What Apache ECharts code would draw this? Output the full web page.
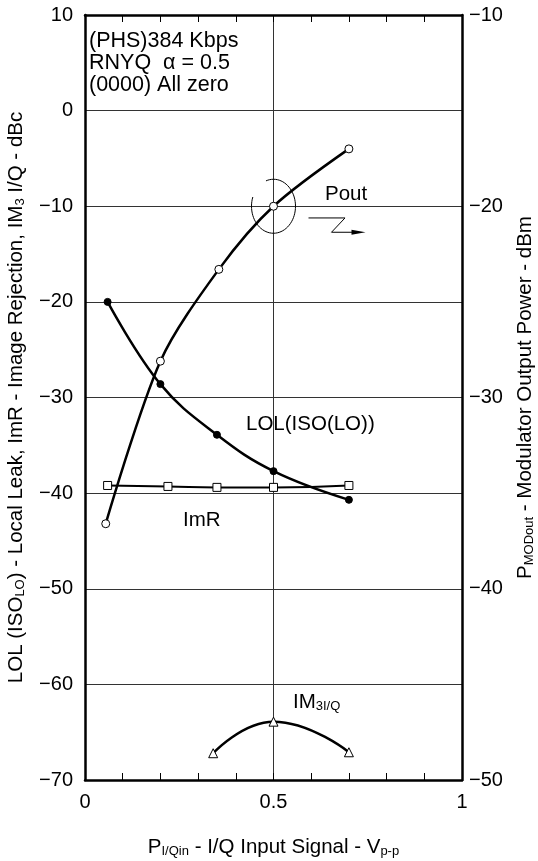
<!DOCTYPE html>
<html>
<head>
<meta charset="utf-8">
<script src="https://cdn.jsdelivr.net/npm/echarts@6/dist/echarts.min.js"></script>
<style>
html,body{margin:0;padding:0;background:#fff;overflow:hidden;}
#chart{width:538px;height:861px;}
</style>
</head>
<body>
<div id="chart"></div>
<script>
// ---- data ----
const xLOL = [0.06, 0.2, 0.35, 0.5, 0.7];
const yLOL = [-20, -28.6, -33.9, -37.7, -40.7];
const xImR = [0.06, 0.22, 0.35, 0.5, 0.7];
const yImR = [-39.2, -39.3, -39.4, -39.4, -39.2];
const xPout = [0.055, 0.2, 0.355, 0.5, 0.7];
const yPout = [-36.6, -28.1, -23.3, -20, -17];
const xIM3 = [0.34, 0.5, 0.7];
const yIM3 = [-67.2, -63.9, -67.1];
const xTicks = [0, 0.5, 1];
const yLeftTicks = [10, 0, -10, -20, -30, -40, -50, -60, -70];
const yRightTicks = [-10, -20, -30, -40, -50];
const infoLines = ['(PHS)384 Kbps', 'RNYQ  \u03b1 = 0.5', '(0000) All zero'];
const poutMarkPoint = [0.5, -20];

const FONT = '"Liberation Sans", Arial, Helvetica, sans-serif';
const pair = (xs, ys) => xs.map((x, i) => [x, ys[i]]);
const minus = v => (v < 0 ? '\u2212' + Math.abs(v) : String(v));

const chart = echarts.init(document.getElementById('chart'), null, {renderer: 'canvas'});

const frame = {show: true, onZero: false, lineStyle: {color: '#000', width: 2.5}};
const richTitle = {
  b: {fontSize: 20.5, color: '#000', fontFamily: FONT, verticalAlign: 'bottom', lineHeight: 24},
  s: {fontSize: 13, color: '#000', fontFamily: FONT, verticalAlign: 'bottom', lineHeight: 20}
};

const option = {
  backgroundColor: '#fff',
  animation: false,
  textStyle: {fontFamily: FONT},
  grid: {left: 85, right: 76, top: 15, bottom: 81, containLabel: false, outerBoundsMode: 'none'},
  xAxis: [{
    type: 'value', min: 0, max: 1, interval: 0.5, position: 'bottom',
    axisLine: frame,
    axisTick: {show: true, inside: true, length: 7, lineStyle: {color: '#000', width: 1}},
    minorTick: {show: true, splitNumber: 5, length: 7, lineStyle: {color: '#000', width: 1}},
    splitLine: {show: true, lineStyle: {color: '#333', width: 1}},
    axisLabel: {fontSize: 20, color: '#000', margin: 12, fontFamily: FONT,
      formatter: v => (xTicks.indexOf(v) >= 0 ? String(v) : '')},
    name: '{b|P}{s|I/Qin}{b| - I/Q Input Signal - V}{s|p-p}',
    nameLocation: 'middle', nameGap: 54,
    nameTextStyle: {rich: richTitle}
  }, {
    type: 'value', min: 0, max: 1, interval: 0.5, position: 'top',
    axisLine: frame,
    axisTick: {show: true, inside: true, length: 7, lineStyle: {color: '#000', width: 1}},
    minorTick: {show: true, splitNumber: 5, length: 7, lineStyle: {color: '#000', width: 1}},
    splitLine: {show: false}, axisLabel: {show: false}
  }],
  yAxis: [{
    type: 'value', min: -70, max: 10, interval: 10, position: 'left',
    axisLine: frame, axisTick: {show: false},
    splitLine: {show: true, lineStyle: {color: '#333', width: 1}},
    axisLabel: {fontSize: 20, color: '#000', margin: 12, fontFamily: FONT, formatter: minus},
    name: '{b|LOL (ISO}{s|LO}{b|) - Local Leak, ImR - Image Rejection, IM}{s|3}{b| I/Q - dBc}',
    nameLocation: 'middle', nameGap: 58, nameRotate: 90,
    nameTextStyle: {rich: richTitle}
  }, {
    type: 'value', min: -50, max: -10, interval: 10, position: 'right',
    axisLine: frame, axisTick: {show: false}, splitLine: {show: false},
    axisLabel: {fontSize: 20, color: '#000', margin: 7, fontFamily: FONT, formatter: minus},
    name: '{b|P}{s|MODout}{b| - Modulator Output Power - dBm}',
    nameLocation: 'middle', nameGap: 50, nameRotate: 90,
    nameTextStyle: {rich: richTitle}
  }],
  series: [{
    name: 'LOL(ISO(LO))', type: 'line', xAxisIndex: 0, yAxisIndex: 0, smooth: 0.4,
    data: pair(xLOL, yLOL), symbol: 'circle', symbolSize: 7,
    lineStyle: {color: '#000', width: 2.5}, itemStyle: {color: '#000', borderColor: '#000', borderWidth: 1}
  }, {
    name: 'ImR', type: 'line', xAxisIndex: 0, yAxisIndex: 0, smooth: 0.5,
    data: pair(xImR, yImR), symbol: 'rect', symbolSize: 8,
    lineStyle: {color: '#000', width: 2}, itemStyle: {color: '#fff', borderColor: '#000', borderWidth: 1}
  }, {
    name: 'Pout', type: 'line', xAxisIndex: 0, yAxisIndex: 1, smooth: 0.3,
    data: pair(xPout, yPout), symbol: 'circle', symbolSize: 8,
    lineStyle: {color: '#000', width: 2.5}, itemStyle: {color: '#fff', borderColor: '#000', borderWidth: 1}
  }, {
    name: 'IM3I/Q', type: 'line', xAxisIndex: 0, yAxisIndex: 0, smooth: 0.5,
    data: pair(xIM3, yIM3), symbol: 'triangle', symbolSize: 9,
    lineStyle: {color: '#000', width: 2.5}, itemStyle: {color: '#fff', borderColor: '#000', borderWidth: 1}
  }]
};
chart.setOption(option);

// ---- annotations ----
const c = chart.convertToPixel({xAxisIndex: 0, yAxisIndex: 1}, poutMarkPoint);
const cx = c[0], cy = c[1];
const ell = [];
for (let t = 250; t <= 560; t += 5) {
  const r = t * Math.PI / 180;
  ell.push([cx + 22 * Math.cos(r), cy + 27 * Math.sin(r)]);
}
const txt = (text, x, y, size) => ({
  type: 'text', x: x, y: y, silent: true,
  style: {text: text, fontSize: size || 20.5, fontFamily: FONT, fill: '#000', verticalAlign: 'middle', align: 'left'}
});
chart.setOption({
  graphic: [
    {type: 'polyline', silent: true, shape: {points: ell}, style: {stroke: '#000', lineWidth: 1, fill: null}},
    {type: 'polyline', silent: true,
      shape: {points: [[cx + 35, cy + 11.7], [cx + 71.5, cy + 11.7], [cx + 58, cy + 26], [cx + 80, cy + 26]]},
      style: {stroke: '#000', lineWidth: 1, fill: null}},
    {type: 'polygon', silent: true,
      shape: {points: [[cx + 78, cy + 23.5], [cx + 92, cy + 26], [cx + 78, cy + 28.5]]},
      style: {fill: '#000'}},
    txt(infoLines[0], 89, 41, 21.5),
    txt(infoLines[1], 89, 63, 21.5),
    txt(infoLines[2], 89, 85, 21.5),
    txt('Pout', 325, 194),
    txt('LOL(ISO(LO))', 246, 424),
    txt('ImR', 183, 520),
    {type: 'text', x: 293, y: 713, silent: true,
      style: {text: '{b|IM}{s|3I/Q}', fontFamily: FONT, fill: '#000', verticalAlign: 'bottom', align: 'left',
        rich: {b: {fontSize: 20.5, fontFamily: FONT, fill: '#000', verticalAlign: 'bottom', lineHeight: 20},
               s: {fontSize: 13, fontFamily: FONT, fill: '#000', verticalAlign: 'bottom', lineHeight: 16}}}}
  ]
});
</script>
</body>
</html>
